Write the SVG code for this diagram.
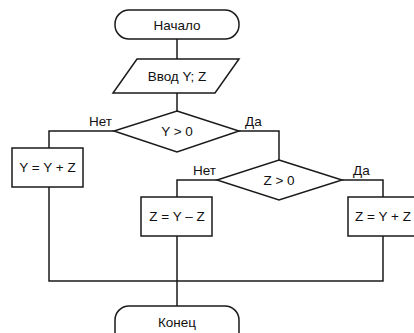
<svg xmlns="http://www.w3.org/2000/svg" width="414" height="333" viewBox="0 0 414 333">
<style>
.s{fill:#fff;stroke:#1a1a1a;stroke-width:1.5}
.l{fill:none;stroke:#1a1a1a;stroke-width:1.5}
text{font-family:"Liberation Sans",Arial,sans-serif;font-size:13.5px;fill:#111}
.c{text-anchor:middle}
</style>
<rect width="414" height="333" fill="#fff"/>
<g id="connectors">
<path class="l" d="M177,39V59M177,93V111"/>
<path class="l" d="M114,131H49V148M239,131H279V160"/>
<path class="l" d="M217,180H177V197M342,180H383V197"/>
<path class="l" d="M49,187V281H383V236M177,236V306"/>
</g>
<g id="start"><rect class="s" x="115" y="10" width="124" height="29" rx="14"/><text class="c" x="177" y="29.5">Начало</text></g>
<g id="input"><polygon class="s" points="137,59 239,59 215,93 113,93"/><text class="c" x="177" y="80.5">Ввод Y; Z</text></g>
<g id="cond1"><polygon class="s" points="177,111 239,131 177,152 114,131"/><text class="c" x="177" y="136">Y &gt; 0</text></g>
<text x="89" y="126">Нет</text>
<text x="245" y="126">Да</text>
<g id="box1"><rect class="s" x="12" y="148" width="71" height="39"/><text class="c" x="47.5" y="172">Y = Y + Z</text></g>
<g id="cond2"><polygon class="s" points="279,160 342,180 279,200 217,180"/><text class="c" x="279" y="185">Z &gt; 0</text></g>
<text x="193" y="175">Нет</text>
<text x="353" y="175">Да</text>
<g id="box2"><rect class="s" x="141" y="197" width="71" height="39"/><text class="c" x="177" y="221">Z = Y – Z</text></g>
<g id="box3"><rect class="s" x="348" y="197" width="71" height="39"/><text class="c" x="383" y="221">Z = Y + Z</text></g>
<g id="end"><rect class="s" x="115" y="306" width="124" height="40" rx="14"/><text class="c" x="177" y="327">Конец</text></g>
</svg>
